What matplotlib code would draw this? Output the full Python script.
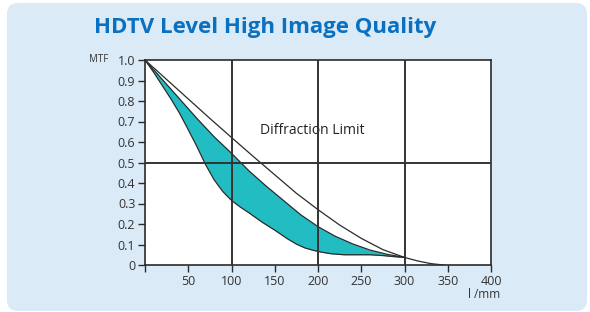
import matplotlib
matplotlib.use('Agg')
import numpy as np
import matplotlib.pyplot as plt
from matplotlib.patches import FancyBboxPatch
from matplotlib.transforms import IdentityTransform

plt.rcParams['font.family'] = ['Open Sans', 'DejaVu Sans']

# diffraction limit curve
diff_x = [0, 25, 50, 75, 100, 125, 150, 175, 200, 225, 250, 275, 300, 315, 330, 345]
diff_y = [1.0, 0.905, 0.81, 0.715, 0.622, 0.53, 0.44, 0.35, 0.27, 0.195, 0.13, 0.075, 0.037, 0.02, 0.007, 0.0]

# upper edge of the band
upper_x = [0, 20, 40, 60, 80, 100, 120, 140, 160, 180, 200, 220, 240, 260, 280, 300]
upper_y = [1.0, 0.905, 0.81, 0.715, 0.625, 0.545, 0.46, 0.385, 0.315, 0.245, 0.187, 0.14, 0.103, 0.073, 0.052, 0.037]

# lower edge of the band
lower_x = [0, 10, 20, 30, 40, 50, 60, 70, 80, 90, 100, 110, 120, 135, 150, 165, 175, 185, 195,
           205, 215, 230, 245, 260, 275, 290, 300]
lower_y = [1.0, 0.94, 0.875, 0.81, 0.74, 0.66, 0.578, 0.49, 0.415, 0.358, 0.315, 0.283, 0.255,
           0.21, 0.17, 0.127, 0.102, 0.083, 0.071, 0.062, 0.055, 0.05, 0.05, 0.05, 0.046, 0.04, 0.037]

xticks = [0, 50, 100, 150, 200, 250, 300, 350, 400]
xticklabels = ['', '50', '100', '150', '200', '250', '300', '350', '400']
yticks = [0, 0.1, 0.2, 0.3, 0.4, 0.5, 0.6, 0.7, 0.8, 0.9, 1.0]
yticklabels = ['0', '0.1', '0.2', '0.3', '0.4', '0.5', '0.6', '0.7', '0.8', '0.9', '1.0']

teal = '#22bdc3'
bg = '#dbeaf7'
ink = '#2b2b2b'

fig = plt.figure(figsize=(5.9, 3.12), dpi=100)
fig.patch.set_facecolor('white')

# rounded background panel (pixel coords)
panel = FancyBboxPatch((7, 1), 580, 308, boxstyle='round,pad=0,rounding_size=11',
                       transform=IdentityTransform(), facecolor=bg, edgecolor='none', zorder=0)
fig.add_artist(panel)

fig.text(265 / 590, 1 - 28 / 312, 'HDTV Level High Image Quality', ha='center', va='center',
         fontsize=16, fontweight='bold', color='#0a70c0')

ax = fig.add_axes([145 / 590, 47 / 312, 346 / 590, 205 / 312])
ax.set_facecolor('white')

# band: both edges on one x grid for fill_between
xs = np.linspace(0, 300, 301)
lo = np.interp(xs, lower_x, lower_y)
hi = np.interp(xs, upper_x, upper_y)
ax.fill_between(xs, lo, hi, color=teal, lw=0, zorder=2)
ax.plot(upper_x, upper_y, color=ink, lw=0.9, zorder=3)
ax.plot(lower_x, lower_y, color=ink, lw=0.9, zorder=3)
ax.plot(diff_x, diff_y, color=ink, lw=0.9, zorder=3)

ax.text((312.5 - 145) / 0.865, (265 - 130) / 205, 'Diffraction Limit', ha='center', va='center',
        fontsize=10, color='#222222', zorder=1)

for gx in [100, 200, 300]:
    ax.axvline(gx, color='#333333', lw=1.4, zorder=4)
ax.axhline(0.5, color='#333333', lw=1.4, zorder=4)

ax.set_xlim(0, 400)
ax.set_ylim(0, 1.0)
ax.set_xticks(xticks)
ax.set_xticklabels(xticklabels)
ax.set_yticks(yticks)
ax.set_yticklabels(yticklabels)
ax.tick_params(direction='out', length=5, width=1, color=ink, labelcolor='#333333',
               labelsize=9, pad=2)
for s in ax.spines.values():
    s.set_color(ink)
    s.set_linewidth(1.2)

fig.text(108 / 590, 1 - 60 / 312, 'MTF', ha='right', va='center', fontsize=7, color='#333333')
fig.text(500 / 590, 1 - 294 / 312, 'l /mm', ha='right', va='center', fontsize=8.5, color='#333333')

fig.savefig('out.png', dpi=100, facecolor='white')
